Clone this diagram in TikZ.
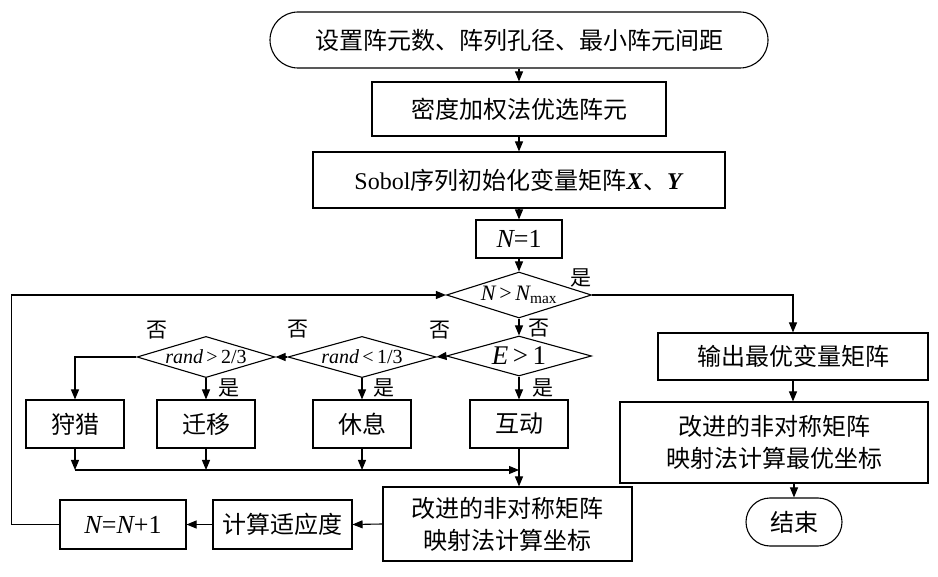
\documentclass[tikz,border=0pt]{standalone}
\usepackage{fontspec}
\setmainfont{Liberation Serif}
\newfontfamily\cjk{Noto Sans CJK SC}
\usetikzlibrary{shapes.geometric,arrows.meta}
\newcommand{\lat}[1]{{\rmfamily #1}}
\newcommand{\vit}[1]{{\rmfamily\itshape #1}}

\begin{document}
\begin{tikzpicture}[x=1pt,y=-1pt,line width=1.1pt,
  font=\cjk\fontsize{24}{32}\selectfont,
  >={Triangle[length=10pt,width=8pt]},
  box/.style={rectangle,draw,inner sep=0pt,align=center},
  term/.style={rectangle,draw,inner sep=0pt,rounded corners=#1},
  dec/.style={diamond,draw,inner sep=0pt,aspect=3},
  lbl/.style={inner sep=0pt,font=\cjk\fontsize{21}{23}\selectfont}]
\useasboundingbox (0,0) rectangle (938,577);

\node[term=28pt,minimum width=498pt,minimum height=56pt] (start) at (519,40) {设置阵元数、阵列孔径、最小阵元间距};
\node[box,minimum width=294pt,minimum height=54pt] (dens) at (519,109) {密度加权法优选阵元};
\node[box,minimum width=412pt,minimum height=56pt] (init) at (519,180) {\lat{Sobol}序列初始化变量矩阵\lat{\textbf{\textit{X}}}、\lat{\textbf{\textit{Y}}}};
\node[box,minimum width=86pt,minimum height=38pt,font=\fontsize{26}{28}\selectfont] (n1) at (519,239) {\vit{N}\lat{=1}};
\node[dec,minimum width=145pt,minimum height=46pt,font=\fontsize{22}{24}\selectfont] (cmp) at (519,295) {\vit{N}\lat{\,>\,}\vit{N}\lat{\textsubscript{max}}};

\node[dec,minimum width=145pt,minimum height=40pt,font=\fontsize{27}{29}\selectfont] (e1) at (519,356) {\vit{E}\lat{\,>\,1}};
\node[dec,minimum width=148pt,minimum height=40pt,font=\fontsize{20}{22}\selectfont] (r1) at (362,357) {\vit{rand}\lat{\,<\,1/3}};
\node[dec,minimum width=138pt,minimum height=40pt,font=\fontsize{20}{22}\selectfont] (r2) at (206,357) {\vit{rand}\lat{\,>\,2/3}};

\node[box,minimum width=98pt,minimum height=48pt] (hunt) at (75,424) {狩猎};
\node[box,minimum width=98pt,minimum height=48pt] (migr) at (206,424) {迁移};
\node[box,minimum width=98pt,minimum height=48pt] (rest) at (362,424) {休息};
\node[box,minimum width=98pt,minimum height=48pt] (act) at (519,424) {互动};

\node[box,minimum width=249pt,minimum height=74pt] (upd) at (507.5,524) {改进的非对称矩阵\\映射法计算坐标};
\node[box,minimum width=139pt,minimum height=49pt] (fit) at (282.5,524.5) {计算适应度};
\node[box,minimum width=126pt,minimum height=49pt,font=\fontsize{26}{28}\selectfont] (inc) at (123,524.5) {\vit{N}\lat{=}\vit{N}\lat{+1}};

\node[box,minimum width=270pt,minimum height=47pt] (out) at (793,356.5) {输出最优变量矩阵};
\node[box,minimum width=308pt,minimum height=81pt] (best) at (774,442.5) {改进的非对称矩阵\\映射法计算最优坐标};
\node[term=24pt,minimum width=96pt,minimum height=48pt] (stop) at (794,522) {结束};

\node[lbl] (y0) at (581,278) {是};
\node[lbl] (n0) at (539,328) {否};
\node[lbl] (n1l) at (440,330) {否};
\node[lbl] (n2l) at (298,329) {否};
\node[lbl] (n3l) at (157,330) {否};
\node[lbl] (y3) at (229,388) {是};
\node[lbl] (y2) at (384,388) {是};
\node[lbl] (y1) at (543,388) {是};

\coordinate (j) at (519,470);

\draw[->] (start.south) -- (dens.north);
\draw[->] (dens.south) -- (init.north);
\draw[->] (init.south) -- (n1.north);
\draw[->] (n1.south) -- (cmp.north);
\draw[->] (cmp.south) -- (e1.north);
\draw[->] (cmp.east) -| (out.north);
\draw[->] (e1.west) -- (r1.east);
\draw[->] (r1.west) -- (r2.east);
\draw[->] (r2.west) -| (hunt.north);
\draw[->] (r2.south) -- (migr.north);
\draw[->] (r1.south) -- (rest.north);
\draw[->] (e1.south) -- (act.north);
\draw[->] (hunt.south) -- (hunt.south |- j);
\draw[->] (migr.south) -- (migr.south |- j);
\draw[->] (rest.south) -- (rest.south |- j);
\draw[->] (hunt.south |- j) -- (j);
\draw[->] (act.south) -- (act.south |- upd.north);
\draw[->] (upd.west) -- (fit.east);
\draw[->] (fit.west) -- (inc.east);
\draw[->] (inc.west) -- ++(-48,0) |- (cmp.west);
\draw[->] (out.south) -- (out.south |- best.north);
\draw[->] (stop.north |- best.south) -- (stop.north);
\end{tikzpicture}
\end{document}
